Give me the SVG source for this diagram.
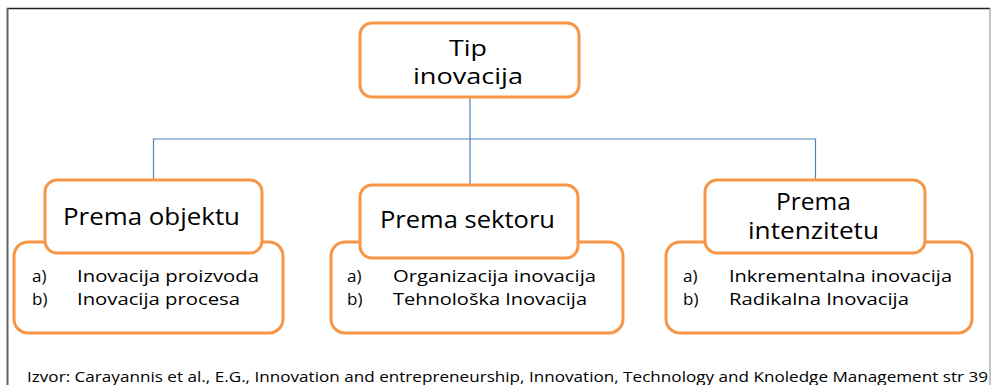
<svg xmlns="http://www.w3.org/2000/svg" width="991" height="385" viewBox="0 0 991 385">
<style>
.box{fill:#fff;stroke:#F79646;stroke-width:3}
.conn{fill:none;stroke:#4F81BD;stroke-width:1.2}
.h{font-family:"Open Sans","Noto Sans",sans-serif;font-size:23px;fill:#000;text-anchor:middle}
.r{font-size:21.5px}
.l{font-family:"Open Sans","Noto Sans",sans-serif;font-size:17px;fill:#000}
.f{font-family:"Open Sans","Noto Sans",sans-serif;font-size:15px;fill:#000}
</style>
<rect x="0" y="0" width="991" height="385" fill="#fff"/>
<g id="frame">
<line x1="7" y1="8.5" x2="990" y2="8.5" stroke="#222" stroke-width="1.5"/>
<line x1="7.5" y1="8" x2="7.5" y2="385" stroke="#666" stroke-width="2"/>
<line x1="990" y1="8" x2="990" y2="385" stroke="#888" stroke-width="1"/>
</g>
<g id="connectors">
<path class="conn" d="M470 97V184M153.5 180V139H815.5V180"/>
</g>
<g id="root">
<rect class="box" x="360" y="23" width="219" height="74" rx="12"/>
<text class="h r" x="468" y="55.5" textLength="38" lengthAdjust="spacingAndGlyphs">Tip</text>
<text class="h r" x="468" y="84" textLength="110" lengthAdjust="spacingAndGlyphs">inovacija</text>
</g>
<g id="objekt">
<rect class="box" x="14" y="242" width="269" height="91" rx="14"/>
<rect class="box" x="45" y="180" width="217" height="73" rx="12"/>
<text class="h" x="151.5" y="225" textLength="177" lengthAdjust="spacingAndGlyphs">Prema objektu</text>
<text class="l" x="32" y="282">a)</text>
<text class="l" x="77" y="282" textLength="182" lengthAdjust="spacingAndGlyphs">Inovacija proizvoda</text>
<text class="l" x="32" y="305">b)</text>
<text class="l" x="77" y="305" textLength="163" lengthAdjust="spacingAndGlyphs">Inovacija procesa</text>
</g>
<g id="sektor">
<rect class="box" x="331" y="242" width="292" height="91" rx="14"/>
<rect class="box" x="360" y="185" width="218" height="73" rx="12"/>
<text class="h" x="467.5" y="228" textLength="175" lengthAdjust="spacingAndGlyphs">Prema sektoru</text>
<text class="l" x="347" y="282">a)</text>
<text class="l" x="393" y="282" textLength="203" lengthAdjust="spacingAndGlyphs">Organizacija inovacija</text>
<text class="l" x="347" y="305">b)</text>
<text class="l" x="393" y="305" textLength="194" lengthAdjust="spacingAndGlyphs">Tehnološka Inovacija</text>
</g>
<g id="intenzitet">
<rect class="box" x="666" y="242" width="306" height="91" rx="14"/>
<rect class="box" x="705" y="180" width="220" height="73" rx="12"/>
<text class="h" x="813.5" y="210" textLength="75" lengthAdjust="spacingAndGlyphs">Prema</text>
<text class="h" x="813.5" y="239" textLength="131" lengthAdjust="spacingAndGlyphs">intenzitetu</text>
<text class="l" x="683" y="282">a)</text>
<text class="l" x="729" y="282" textLength="223" lengthAdjust="spacingAndGlyphs">Inkrementalna inovacija</text>
<text class="l" x="683" y="305">b)</text>
<text class="l" x="729" y="305" textLength="180" lengthAdjust="spacingAndGlyphs">Radikalna Inovacija</text>
</g>
<text class="f" x="27" y="382" textLength="961" lengthAdjust="spacingAndGlyphs">Izvor: Carayannis et al., E.G., Innovation and entrepreneurship,  Innovation, Technology and Knoledge Management str 39</text>
</svg>
